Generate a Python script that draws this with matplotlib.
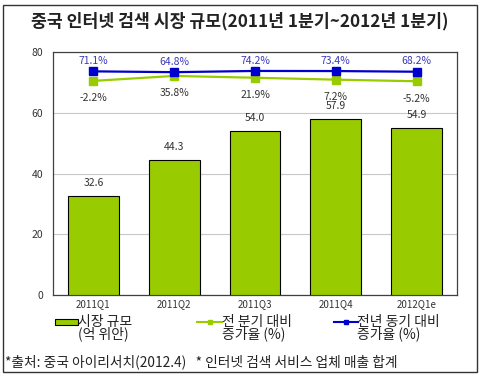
import matplotlib
matplotlib.use("Agg")
import matplotlib.pyplot as plt
from matplotlib.patches import Rectangle
from matplotlib.lines import Line2D

plt.rcParams['font.family'] = ['Noto Sans CJK KR', 'DejaVu Sans']

# data
quarters = ['2011Q1', '2011Q2', '2011Q3', '2011Q4', '2012Q1e']
market_size = [32.6, 44.3, 54.0, 57.9, 54.9]      # 억 위안
qoq_growth = [-2.2, 35.8, 21.9, 7.2, -5.2]        # 전 분기 대비 %
yoy_growth = [71.1, 64.8, 74.2, 73.4, 68.2]       # 전년 동기 대비 %

bar_green = '#99cc00'
line_blue = '#0000cc'

W, H = 483, 381
fig = plt.figure(figsize=(W / 100, H / 100), dpi=100)

ax = fig.add_axes([53 / W, 1 - 295 / H, (457 - 53) / W, (295 - 52) / H])
x = list(range(len(quarters)))
bars = ax.bar(x, market_size, width=0.63, color=bar_green, edgecolor='black',
              linewidth=0.8, zorder=3)
ax.set_xlim(-0.5, len(quarters) - 0.5)
ax.set_ylim(0, 80)
ax.set_yticks([0, 20, 40, 60, 80])
ax.set_xticks(x)
ax.set_xticklabels(quarters)
ax.grid(axis='y', color='#c8c8c8', linewidth=0.8, zorder=0)
ax.tick_params(axis='y', length=0, labelsize=7.5, labelcolor='#333333', pad=7)
ax.tick_params(axis='x', length=0, labelsize=7, labelcolor='#333333', pad=3)
for s in ax.spines.values():
    s.set_color('#404040')
    s.set_linewidth(0.9)

for xi, v in zip(x, market_size):
    ax.annotate(f'{v:.1f}', (xi, v), xytext=(0, 9.5), textcoords='offset points',
                ha='center', va='center', fontsize=7.5, color='#333333', zorder=5)

# growth lines on a hidden second scale
ax2 = ax.twinx()
ax2.set_ylim(-1650, 220)
ax2.set_yticks([])
for s in ax2.spines.values():
    s.set_visible(False)
ax2.plot(x, qoq_growth, color=bar_green, lw=1.6, marker='s', ms=5.5, zorder=4)
ax2.plot(x, yoy_growth, color=line_blue, lw=1.6, marker='s', ms=5.5, zorder=4)
for xi, v in zip(x, yoy_growth):
    ax2.annotate(f'{v:.1f}%', (xi, v), xytext=(0, 7.5), textcoords='offset points',
                 ha='center', va='center', fontsize=7.5, color='#3a3ab8')
for xi, v in zip(x, qoq_growth):
    ax2.annotate(f'{v:.1f}%', (xi, v), xytext=(0, -12.5), textcoords='offset points',
                 ha='center', va='center', fontsize=7.5, color='#333333')

# title
fig.text(240 / W, 1 - 21 / H, '중국 인터넷 검색 시장 규모(2011년 1분기~2012년 1분기)',
         ha='center', va='center', fontsize=12.4, fontweight='bold', color='#222222')

# legend, drawn by hand so the swatch sits on the first text line
fig.add_artist(Rectangle((55 / W, 1 - 325 / H), 23 / W, 6 / H, transform=fig.transFigure,
                         facecolor=bar_green, edgecolor='black', linewidth=0.8))
fig.text(78 / W, 1 - 328 / H, '시장 규모\n(억 위안)', ha='left', va='center',
         fontsize=10, linespacing=0.8, color='#222222')

fig.add_artist(Line2D([197 / W, 222 / W], [1 - 322 / H, 1 - 322 / H], transform=fig.transFigure,
                      color=bar_green, lw=1.5))
fig.add_artist(Line2D([209.5 / W], [1 - 322 / H], transform=fig.transFigure,
                      color=bar_green, marker='s', ms=3.5))
fig.text(222 / W, 1 - 328 / H, '전 분기 대비\n증가율 (%)', ha='left', va='center',
         fontsize=10, linespacing=0.8, color='#222222')

fig.add_artist(Line2D([334 / W, 358 / W], [1 - 322 / H, 1 - 322 / H], transform=fig.transFigure,
                      color=line_blue, lw=1.5))
fig.add_artist(Line2D([346 / W], [1 - 322 / H], transform=fig.transFigure,
                      color=line_blue, marker='s', ms=3.5))
fig.text(357 / W, 1 - 328 / H, '전년 동기 대비\n증가율 (%)', ha='left', va='center',
         fontsize=10, linespacing=0.8, color='#222222')

# footnote
fig.text(5 / W, 1 - 362 / H, '*출처: 중국 아이리서치(2012.4)   * 인터넷 검색 서비스 업체 매출 합계',
         ha='left', va='center', fontsize=9.9, color='#222222')

# outer frame
fig.add_artist(Rectangle((3 / W, 1 - 372 / H), 474 / W, 367 / H, transform=fig.transFigure,
                         fill=False, edgecolor='#333333', linewidth=1))

fig.savefig('out.png', dpi=100)
